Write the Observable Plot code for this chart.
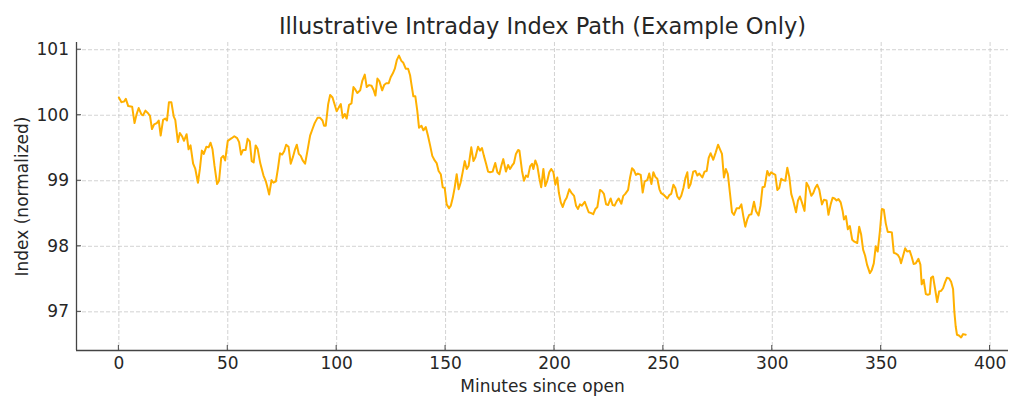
<!DOCTYPE html>
<html><head><meta charset="utf-8">
<script src="https://cdn.jsdelivr.net/npm/d3@7"></script>
<script src="https://cdn.jsdelivr.net/npm/@observablehq/plot@0.6"></script>
<style>html,body{margin:0;padding:0;background:#fff;}</style>
</head><body><div id="chart"></div>
<script>
const titleText = "Illustrative Intraday Index Path (Example Only)";
const xLabel = "Minutes since open";
const yLabel = "Index (normalized)";
const xTicks = [0, 50, 100, 150, 200, 250, 300, 350, 400];
const yTicks = [97, 98, 99, 100, 101];
const xDomain = [-19.45, 408.45];
const yDomain = [96.41, 101.11];

const minutes = [
0.0,1.2,2.4,3.2,4.3,6.1,7.2,8.1,9.1,10.4,11.1,12.2,13.4,14.3,15.2,16.2,17.4,18.3,19.2,20.3,21.3,22.1,23.0,24.1,25.2,25.9,27.1,28.0,29.0,29.9,31.1,32.0,32.9,34.1,35.1,36.3,37.2,38.1,39.0,40.2,41.2,42.1,43.0,43.9,45.1,46.0,47.0,47.9,48.8,50.0,51.8,53.0,54.3,55.2,56.1,57.0,58.2,59.1,60.1,61.0,61.9,62.8,63.7,64.9,
66.4,67.5,68.2,69.0,70.1,71.0,72.1,73.1,74.0,75.0,75.9,76.8,77.9,78.9,79.9,80.9,81.7,82.6,83.5,84.4,85.5,86.6,87.8,88.9,89.9,91.2,92.4,93.5,94.2,95.0,96.1,97.0,98.1,99.1,100.0,101.0,101.9,102.8,103.7,104.6,105.7,106.8,107.7,108.6,109.5,110.8,111.8,112.9,113.8,114.9,116.0,116.9,117.8,118.7,119.6,120.9,121.8,122.8,123.9,124.8,125.8,126.7,127.6,128.6,129.7,
130.6,131.7,132.8,133.7,134.3,135.2,136.1,137.0,137.8,138.9,139.8,140.9,141.9,142.9,143.9,145.0,145.9,146.8,147.8,148.7,149.6,150.5,151.6,152.4,153.3,154.2,155.1,156.0,156.9,157.9,158.8,159.7,160.6,161.8,162.8,163.7,164.9,165.8,166.7,167.6,168.6,169.5,170.4,171.6,172.8,173.8,174.7,175.6,176.5,177.7,178.7,179.6,180.5,181.4,182.3,183.3,183.9,185.1,186.0,186.9,187.8,188.8,189.7,190.3,191.2,192.1,193.0,193.9,194.9,195.8,196.7,197.6,198.5,199.5,200.4,201.3,
202.0,202.9,203.8,204.7,205.6,206.8,207.7,209.0,209.9,210.8,211.7,212.6,213.9,214.8,215.7,216.6,217.8,218.8,219.7,220.9,221.8,222.7,223.7,224.6,225.8,226.7,227.6,228.6,229.5,230.7,231.6,232.5,233.8,234.7,235.6,236.5,237.4,238.3,239.6,240.5,241.4,242.6,243.5,244.5,245.4,246.3,247.2,248.2,249.0,250.0,250.9,251.8,252.7,253.6,254.6,255.5,256.4,257.3,258.2,259.2,260.1,261.0,261.6,262.5,263.7,264.7,265.6,266.5,
267.9,268.9,269.9,270.8,271.7,272.9,274.0,275.1,276.0,276.9,277.8,278.7,279.6,280.6,281.5,282.4,283.6,284.8,285.8,286.7,287.6,288.5,289.4,290.4,291.6,292.5,293.7,294.6,295.5,296.5,297.7,298.6,299.5,300.4,301.4,302.3,303.2,304.1,305.0,306.0,306.9,307.8,308.7,309.6,310.9,311.8,312.7,313.6,314.8,315.7,316.7,317.9,318.8,319.7,320.6,321.6,322.8,323.7,324.9,325.8,326.8,327.7,328.6,329.5,330.4,331.4,332.3,332.9,333.8,334.7,335.6,
336.7,337.7,339.0,339.9,340.8,341.7,342.6,343.5,344.8,345.7,346.6,347.5,348.4,349.4,350.3,351.2,352.1,353.0,353.9,354.9,355.8,356.7,357.6,358.5,359.1,360.1,361.0,361.9,363.1,364.0,364.9,365.9,367.1,368.0,368.6,369.5,370.5,371.4,372.3,372.9,373.8,374.7,375.7,376.6,377.5,378.4,379.3,380.2,381.2,382.1,383.0,383.6,384.2,384.8,385.7,386.7,387.6,388.8
];

const indexValues = [
100.27,100.20,100.21,100.25,100.14,100.13,99.88,100.01,100.11,100.01,100.00,100.07,100.03,99.99,99.79,99.86,99.88,99.92,99.69,99.93,99.95,99.92,100.20,100.20,99.98,99.93,99.59,99.73,99.68,99.61,99.71,99.48,99.54,99.26,99.18,98.97,99.18,99.46,99.41,99.52,99.51,99.58,99.48,99.23,98.95,99.00,99.35,99.38,99.31,99.61,99.65,99.68,99.65,99.59,99.40,99.47,99.47,99.64,99.60,99.30,99.28,99.54,99.49,99.27,
99.08,98.99,98.90,98.79,99.01,98.97,98.99,99.20,99.42,99.40,99.45,99.55,99.52,99.26,99.36,99.48,99.55,99.41,99.38,99.31,99.26,99.46,99.69,99.79,99.88,99.96,99.96,99.92,99.84,99.84,100.17,100.31,100.27,100.16,100.06,100.12,100.17,99.96,100.02,99.95,100.16,100.18,100.43,100.39,100.34,100.38,100.53,100.62,100.43,100.46,100.45,100.39,100.30,100.56,100.52,100.38,100.46,100.49,100.49,100.58,100.64,100.71,100.84,100.91,100.83,
100.80,100.71,100.71,100.61,100.48,100.29,100.29,100.07,99.81,99.84,99.77,99.82,99.69,99.54,99.38,99.31,99.27,99.15,99.10,98.90,98.89,98.64,98.58,98.62,98.74,98.90,99.10,98.87,98.97,99.14,99.30,99.18,99.23,99.51,99.30,99.36,99.52,99.46,99.50,99.38,99.26,99.14,99.13,99.14,99.27,99.13,99.10,99.23,99.33,99.14,99.24,99.18,99.23,99.27,99.41,99.47,99.46,99.15,99.00,99.08,99.06,99.22,99.26,99.18,99.31,99.23,99.05,98.90,99.18,98.92,99.00,99.13,99.18,99.13,98.94,99.05,
98.82,98.67,98.60,98.69,98.74,98.87,98.82,98.77,98.62,98.57,98.64,98.62,98.68,98.60,98.52,98.51,98.49,98.57,98.60,98.86,98.84,98.80,98.64,98.63,98.73,98.63,98.62,98.69,98.73,98.65,98.77,98.80,98.86,99.05,99.19,99.16,99.09,99.11,99.09,98.82,98.99,99.01,99.11,98.95,99.13,99.06,99.03,98.87,98.81,98.79,98.76,98.73,98.78,98.80,98.94,98.89,98.76,98.72,98.77,98.89,99.04,99.13,98.89,98.95,99.14,99.15,99.08,99.11,
99.05,99.14,99.15,99.35,99.42,99.32,99.43,99.55,99.48,99.41,99.05,99.18,99.10,98.80,98.52,98.48,98.58,98.58,98.64,98.46,98.30,98.41,98.48,98.49,98.68,98.54,98.47,98.62,98.90,98.91,99.15,99.08,99.13,99.11,99.09,98.86,98.89,99.03,99.01,99.00,99.20,99.06,98.80,98.70,98.52,98.70,98.76,98.67,98.54,98.97,98.91,98.77,98.81,98.89,98.94,98.86,98.64,98.71,98.70,98.48,98.64,98.74,98.73,98.70,98.72,98.67,98.54,98.41,98.46,98.26,98.31,
98.10,98.07,98.05,98.30,98.18,97.95,97.86,97.72,97.59,97.64,97.74,98.00,97.92,98.23,98.57,98.56,98.35,98.22,98.22,98.21,97.90,97.89,97.87,97.82,97.74,97.86,97.97,97.92,97.93,97.84,97.73,97.74,97.81,97.72,97.42,97.49,97.27,97.26,97.27,97.52,97.54,97.36,97.15,97.31,97.32,97.36,97.45,97.52,97.51,97.46,97.35,97.00,96.78,96.65,96.64,96.61,96.66,96.65
];

const data = minutes.map((m, i) => ({minute: m, value: indexValues[i]}));

const textColor = "#262626";
const spineColor = "#444";
const gridStyle = {stroke: "#c8c8c8", strokeOpacity: 1, strokeWidth: 0.8, strokeDasharray: "4,2"};

const chart = Plot.plot({
  width: 1024,
  height: 410,
  marginLeft: 76,
  marginRight: 16,
  marginTop: 42,
  marginBottom: 60,
  style: {fontFamily: "DejaVu Sans, sans-serif", fontSize: "17px", color: textColor, background: "#fff", overflow: "visible"},
  x: {domain: xDomain, ticks: xTicks, label: null},
  y: {domain: yDomain, ticks: yTicks, label: null},
  marks: [
    Plot.gridX(xTicks, gridStyle),
    Plot.gridY(yTicks, gridStyle),
    Plot.lineY(data, {x: "minute", y: "value", stroke: "#ffb000", strokeWidth: 2, strokeLinejoin: "round"}),
    Plot.ruleX([xDomain[0]], {stroke: spineColor, strokeWidth: 1.3}),
    Plot.ruleY([yDomain[0]], {stroke: spineColor, strokeWidth: 1.3}),
    Plot.axisX(xTicks, {tickSize: 0, tickPadding: 6.5, fontSize: 17, fill: textColor, label: null, tickFormat: d => String(d)}),
    Plot.axisY(yTicks, {tickSize: 0, tickPadding: 7.5, fontSize: 17, fill: textColor, label: null, tickFormat: d => String(d)}),
    Plot.text([titleText], {frameAnchor: "top", lineAnchor: "bottom", dy: -8.3, fontSize: 22.5, fill: textColor}),
    Plot.text([xLabel], {frameAnchor: "bottom", lineAnchor: "bottom", dy: 41.5, fontSize: 17, fill: textColor}),
    Plot.text([yLabel], {frameAnchor: "left", textAnchor: "middle", lineAnchor: "bottom", rotate: -90, dx: -48.5, fontSize: 17, fill: textColor})
  ]
});

document.getElementById("chart").appendChild(chart);

// inward tick marks, positioned with the plot's own scales
const sx = chart.scale("x"), sy = chart.scale("y");
const svg = d3.select(chart);
const g = svg.append("g").attr("stroke", spineColor).attr("stroke-width", 1);
const yBottom = sy.apply(yDomain[0]);
const xLeft = sx.apply(xDomain[0]);
xTicks.forEach(t => {
  const px = sx.apply(t);
  g.append("line").attr("x1", px).attr("x2", px).attr("y1", yBottom).attr("y2", yBottom - 5);
});
yTicks.forEach(t => {
  const py = sy.apply(t);
  g.append("line").attr("x1", xLeft).attr("x2", xLeft + 5).attr("y1", py).attr("y2", py);
});
</script>
</body></html>
